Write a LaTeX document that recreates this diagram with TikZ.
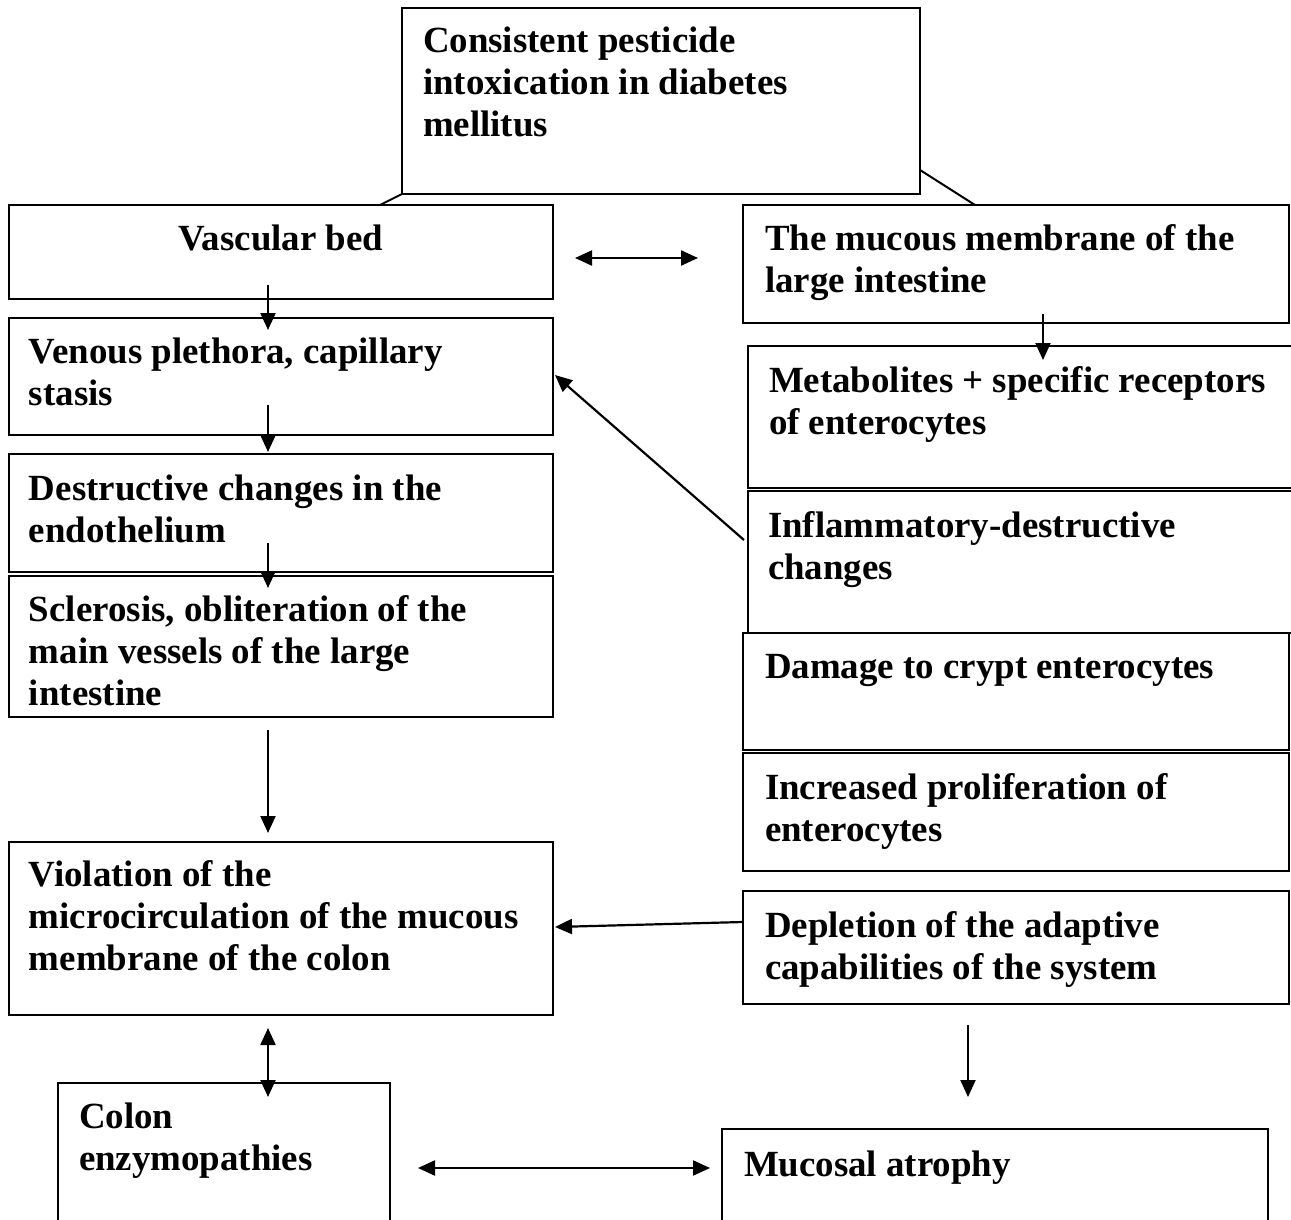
\documentclass[tikz,border=0pt]{standalone}
\usepackage{fontspec}
\setmainfont{Liberation Serif}
\usetikzlibrary{arrows.meta,calc}
\newcommand\bt[5]{\parbox[t][#2][t]{#1}{\raggedright\leftskip=#3\relax\vspace*{\dimexpr#4-\ht\strutbox\relax}\strut#5}}
\newcommand\btc[4]{\parbox[t][#2][t]{#1}{\centering\vspace*{\dimexpr#3-\ht\strutbox\relax}\strut#4}}
\tikzset{
  box/.style={draw, line width=2pt, inner sep=0pt, outer sep=0pt, anchor=north west,
    font=\fontsize{36.9}{42}\selectfont\bfseries},
  arr/.style={line width=2.2pt, -{Triangle[length=17pt,width=15pt]}},
  darr/.style={line width=2.2pt, {Triangle[length=17pt,width=15pt]}-{Triangle[length=17pt,width=15pt]}},
  ln/.style={line width=2pt}
}
\begin{document}
\begin{tikzpicture}[x=1pt,y=1pt]
\useasboundingbox (0,0) rectangle (1291,-1220);
\clip (0,0) rectangle (1291,-1220);
\fill[white] (0,0) rectangle (1291,-1220);
% left column
\node[box] (top) at (402,-8) {\bt{518pt}{186pt}{21pt}{45pt}{Consistent pesticide\\intoxication in diabetes\\mellitus}};
\node[box] (vasc) at (9,-205) {\btc{544pt}{94pt}{45pt}{Vascular bed}};
\node[box] (ven) at (9,-318) {\bt{544pt}{117pt}{20pt}{45pt}{Venous plethora, capillary\\stasis}};
\node[box] (des) at (9,-454) {\bt{544pt}{118pt}{20pt}{46pt}{Destructive changes in the\\endothelium}};
\node[box] (scl) at (9,-576) {\bt{544pt}{141pt}{20pt}{45pt}{Sclerosis, obliteration of the\\main vessels of the large\\intestine}};
\node[box] (viol) at (9,-842) {\bt{544pt}{173pt}{20pt}{44pt}{Violation of the\\microcirculation of the mucous\\membrane of the colon}};
\node[box] (colon) at (58,-1083) {\bt{332pt}{170pt}{21pt}{45pt}{Colon\\enzymopathies}};
% right column
\node[box] (muc) at (743,-205) {\bt{546pt}{118pt}{22pt}{45pt}{The mucous membrane of the\\large intestine}};
\node[box] (met) at (748,-346) {\bt{560pt}{142pt}{21pt}{46pt}{Metabolites + specific receptors\\of enterocytes}};
\node[box] (inf) at (748,-491) {\bt{560pt}{142pt}{20pt}{46pt}{Inflammatory-destructive\\changes}};
\node[box] (dam) at (743,-633) {\bt{546pt}{117pt}{22pt}{45pt}{Damage to crypt enterocytes}};
\node[box] (inc) at (743,-753) {\bt{546pt}{118pt}{22pt}{46pt}{Increased proliferation of\\enterocytes}};
\node[box] (dep) at (743,-891) {\bt{546pt}{113pt}{22pt}{46pt}{Depletion of the adaptive\\capabilities of the system}};
\node[box] (atr) at (722,-1129) {\bt{546pt}{131pt}{22pt}{47pt}{Mucosal atrophy}};
% connectors
\draw[ln] (top.south west) -- ([xshift=99pt]vasc.north);
\draw[ln] ([yshift=-69pt]top.east) -- ([xshift=-41pt]muc.north);
\draw[darr] ([xshift=22pt,yshift=-6pt]vasc.east) -- ([xshift=-45pt,yshift=6pt]muc.west);
\draw[arr] ([xshift=-13pt,yshift=14pt]vasc.south) -- ([xshift=-13pt,yshift=-12pt]ven.north);
\draw[arr] ([xshift=-13pt,yshift=30pt]ven.south) -- ([xshift=-13pt,yshift=2pt]des.north);
\draw[arr] ([xshift=-13pt,yshift=29pt]des.south) -- ([xshift=-13pt,yshift=-12pt]scl.north);
\draw[arr] ([xshift=-13pt,yshift=-13pt]scl.south) -- ([xshift=-13pt,yshift=9pt]viol.north);
\draw[arr] ([xshift=27pt,yshift=9pt]muc.south) -- ([xshift=15pt,yshift=-14pt]met.north);
\draw[arr] ([xshift=-4pt,yshift=22pt]inf.west) -- ([xshift=2pt,yshift=1.5pt]ven.east);
\draw[arr] ([yshift=25.5pt]dep.west) -- ([xshift=2pt,yshift=1.5pt]viol.east);
\draw[darr] ([xshift=-13pt,yshift=-13pt]viol.south) -- ([xshift=44pt,yshift=-14pt]colon.north);
\draw[arr] ([xshift=-48pt,yshift=-21pt]dep.south) -- ([xshift=-27pt,yshift=32pt]atr.north);
\draw[darr] ([xshift=28pt]colon.east) -- ([xshift=-12pt]atr.west |- colon.east);
\end{tikzpicture}
\end{document}
